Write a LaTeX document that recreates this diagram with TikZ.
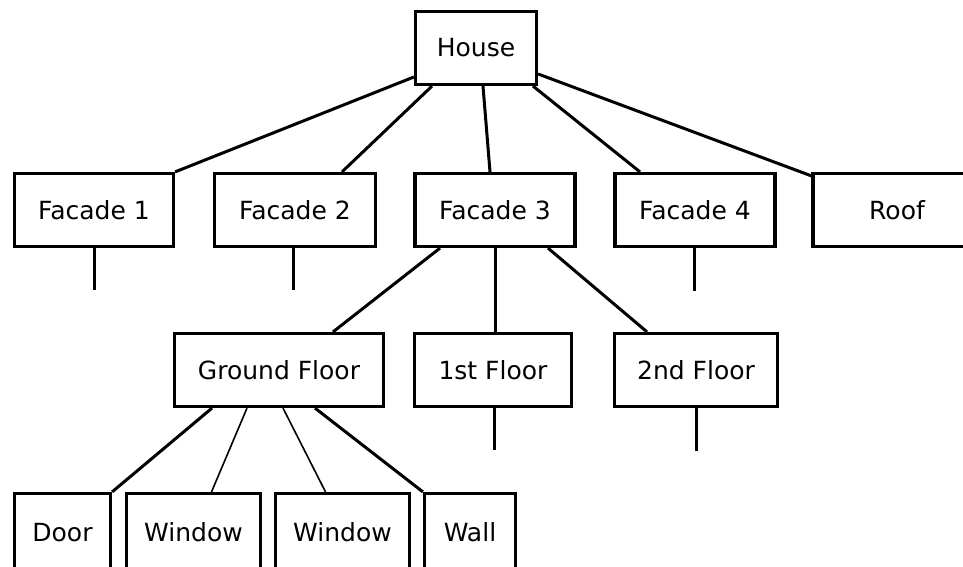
\documentclass[tikz,border=0pt]{standalone}
\usepackage{fontspec}
\setmainfont{DejaVu Sans}
\begin{document}
\begin{tikzpicture}[x=1pt,y=-1pt,
  box/.style={draw=black,line width=3.2pt,fill=white,inner sep=0pt,
    minimum height=73pt,font=\fontsize{25}{29}\selectfont},
  lowbox/.style={box,minimum height=86pt},
  link/.style={draw=black,line width=3pt},
  thinlink/.style={draw=black,line width=1.6pt}]
\useasboundingbox (0,0) rectangle (963,567);
\clip (0,0) rectangle (963,567);
\fill[white] (0,0) rectangle (963,567);

% top level
\node[box,minimum width=121pt] (house) at (476,48) {House};

% facades and roof (the roof box runs past the right margin)
\node[box,minimum width=159pt] (f1) at (94,210) {Facade 1};
\node[box,minimum width=161pt] (f2) at (295,210) {Facade 2};
\node[box,minimum width=160pt] (f3) at (495,210) {Facade 3};
\node[box,minimum width=160pt] (f4) at (695,210) {Facade 4};
\node[box,minimum width=190pt] (roof) at (908,210) {\hspace*{-22pt}Roof};

% floors
\node[box,minimum width=209pt] (gf) at (279,370) {Ground Floor};
\node[box,minimum width=157pt] (fl1) at (493,370) {1st Floor};
\node[box,minimum width=163pt] (fl2) at (696,370) {2nd Floor};

% ground floor parts (boxes run past the bottom margin)
\node[lowbox,minimum width=96pt] (door) at (62.5,536.5) {\raisebox{8.5pt}{Door}};
\node[lowbox,minimum width=134pt] (win1) at (193.5,536.5) {\raisebox{8.5pt}{Window}};
\node[lowbox,minimum width=134pt] (win2) at (342.5,536.5) {\raisebox{8.5pt}{Window}};
\node[lowbox,minimum width=91pt] (wall) at (470,536.5) {\raisebox{8.5pt}{Wall}};

% house to its parts
\draw[link] ([yshift=-29pt]house.west) -- (f1.north east);
\draw[link] ([xshift=-44pt]house.south) -- ([xshift=47pt]f2.north);
\draw[link] ([xshift=7pt]house.south) -- ([xshift=-5pt]f3.north);
\draw[link] ([xshift=57pt]house.south) -- ([xshift=-55pt]f4.north);
\draw[link] ([yshift=-26pt]house.east) -- ([yshift=-4pt]roof.north west);

% stubs below collapsed branches
\coordinate (f1end) at ([yshift=-42pt]f1.south);
\coordinate (f2end) at ([xshift=-2pt,yshift=-42pt]f2.south);
\coordinate (f4end) at ([xshift=-1pt,yshift=-43pt]f4.south);
\coordinate (fl1end) at ([xshift=1pt,yshift=-42pt]fl1.south);
\coordinate (fl2end) at ([yshift=-43pt]fl2.south);
\draw[link] (f1.south) -- (f1end);
\draw[link] ([xshift=-2pt]f2.south) -- (f2end);
\draw[link] ([xshift=-1pt]f4.south) -- (f4end);
\draw[link] ([xshift=1pt]fl1.south) -- (fl1end);
\draw[link] (fl2.south) -- (fl2end);

% facade 3 to floors
\draw[link] ([xshift=-55pt]f3.south) -- ([xshift=54pt]gf.north);
\draw[link] (f3.south) -- (f3.south |- fl1.north);
\draw[link] ([xshift=53pt]f3.south) -- ([xshift=-49pt]fl2.north);

% ground floor to parts
\draw[link] ([xshift=-67pt]gf.south) -- (door.north east);
\draw[thinlink] ([xshift=-32pt]gf.south) -- ([xshift=18pt]win1.north);
\draw[thinlink] ([xshift=4pt]gf.south) -- ([xshift=-17pt]win2.north);
\draw[link] ([xshift=36pt]gf.south) -- (wall.north west);
\end{tikzpicture}
\end{document}
